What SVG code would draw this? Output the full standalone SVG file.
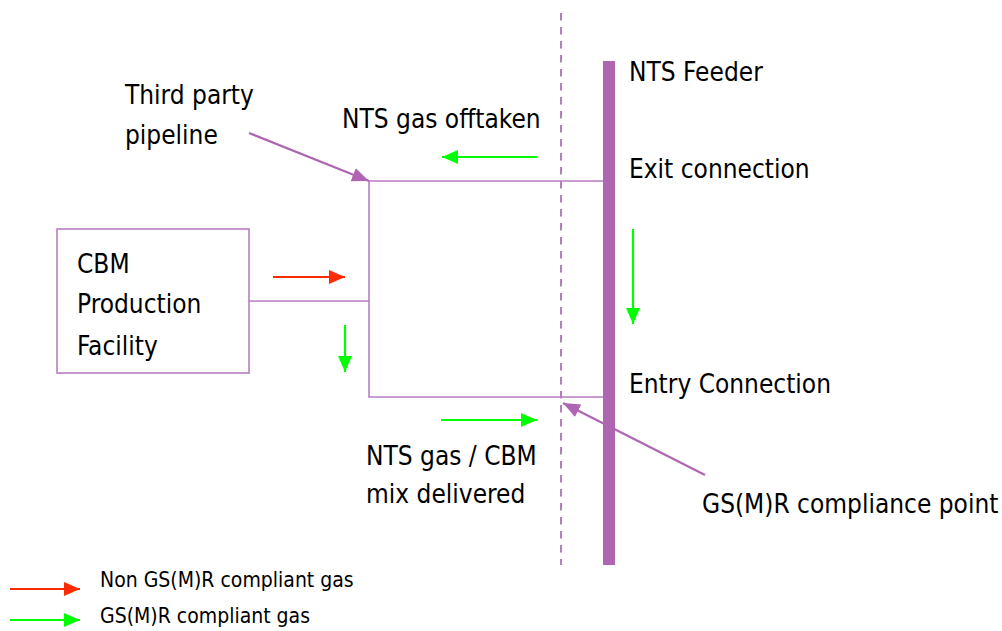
<svg xmlns="http://www.w3.org/2000/svg" width="1002" height="631" viewBox="0 0 1002 631">
<style>
text{font-family:"DejaVu Sans Condensed","DejaVu Sans",sans-serif;fill:#000}
.big{font-size:26px}
.small{font-size:21px}
.pipe{stroke:#B87DC0;stroke-width:1.6;fill:none}
.green{stroke:#00FF00;stroke-width:2.2;fill:none}
.red{stroke:#FF2A00;stroke-width:2.2;fill:none}
.purple{stroke:#AE66B2;stroke-width:2.2;fill:none}
</style>
<defs>
<marker id="ag" markerUnits="userSpaceOnUse" markerWidth="18" markerHeight="16" refX="16" refY="7" orient="auto"><path d="M0,0 L16,7 L0,14 z" fill="#00FF00"/></marker>
<marker id="ar" markerUnits="userSpaceOnUse" markerWidth="18" markerHeight="16" refX="16" refY="7" orient="auto"><path d="M0,0 L16,7 L0,14 z" fill="#FF2A00"/></marker>
<marker id="ap" markerUnits="userSpaceOnUse" markerWidth="20" markerHeight="16" refX="17" refY="7" orient="auto"><path d="M0,0 L17,7 L0,14 z" fill="#AE66B2"/></marker>
</defs>

<g id="nts-feeder">
<rect x="603" y="61" width="12" height="504" fill="#AE66B2"/>
<text class="big" x="629" y="81">NTS Feeder</text>
</g>
<g id="compliance-boundary">
<line x1="561" y1="13" x2="561" y2="565" stroke="#B87DC0" stroke-width="2" stroke-dasharray="7.5,6.5"/>
</g>
<g id="cbm-facility">
<rect x="57" y="229" width="192" height="144" class="pipe"/>
<text class="big" x="77" y="273">CBM</text>
<text class="big" x="77" y="313">Production</text>
<text class="big" x="77" y="355">Facility</text>
</g>
<g id="labels">
<text class="big" x="629" y="178">Exit connection</text>
<text class="big" x="629" y="393">Entry Connection</text>
<text class="big" x="125" y="104">Third party</text>
<text class="big" x="125" y="144">pipeline</text>
<text class="big" x="342" y="128">NTS gas offtaken</text>
<text class="big" x="366" y="465">NTS gas / CBM</text>
<text class="big" x="366" y="503">mix delivered</text>
<text class="big" x="702" y="513">GS(M)R compliance point</text>
</g>
<g id="connectors">
<polyline class="pipe" points="603,181 369,181 369,397 603,397"/>
<line class="pipe" x1="249" y1="301" x2="369" y2="301"/>
<line class="purple" x1="249" y1="133" x2="369" y2="181" marker-end="url(#ap)"/>
<line class="purple" x1="705" y1="475" x2="563" y2="403" marker-end="url(#ap)"/>
<line class="red" x1="273" y1="277" x2="345" y2="277" marker-end="url(#ar)"/>
<line class="green" x1="345" y1="325" x2="345" y2="372" marker-end="url(#ag)"/>
<line class="green" x1="537" y1="157" x2="442" y2="157" marker-end="url(#ag)"/>
<line class="green" x1="633" y1="229" x2="633" y2="324" marker-end="url(#ag)"/>
<line class="green" x1="441" y1="420" x2="537" y2="420" marker-end="url(#ag)"/>
</g>
<g id="legend">
<line class="red" x1="10" y1="589" x2="80" y2="589" marker-end="url(#ar)"/>
<line class="green" x1="10" y1="620" x2="80" y2="620" marker-end="url(#ag)"/>
<text class="small" x="100" y="587">Non GS(M)R compliant gas</text>
<text class="small" x="100" y="623">GS(M)R compliant gas</text>
</g>
</svg>
